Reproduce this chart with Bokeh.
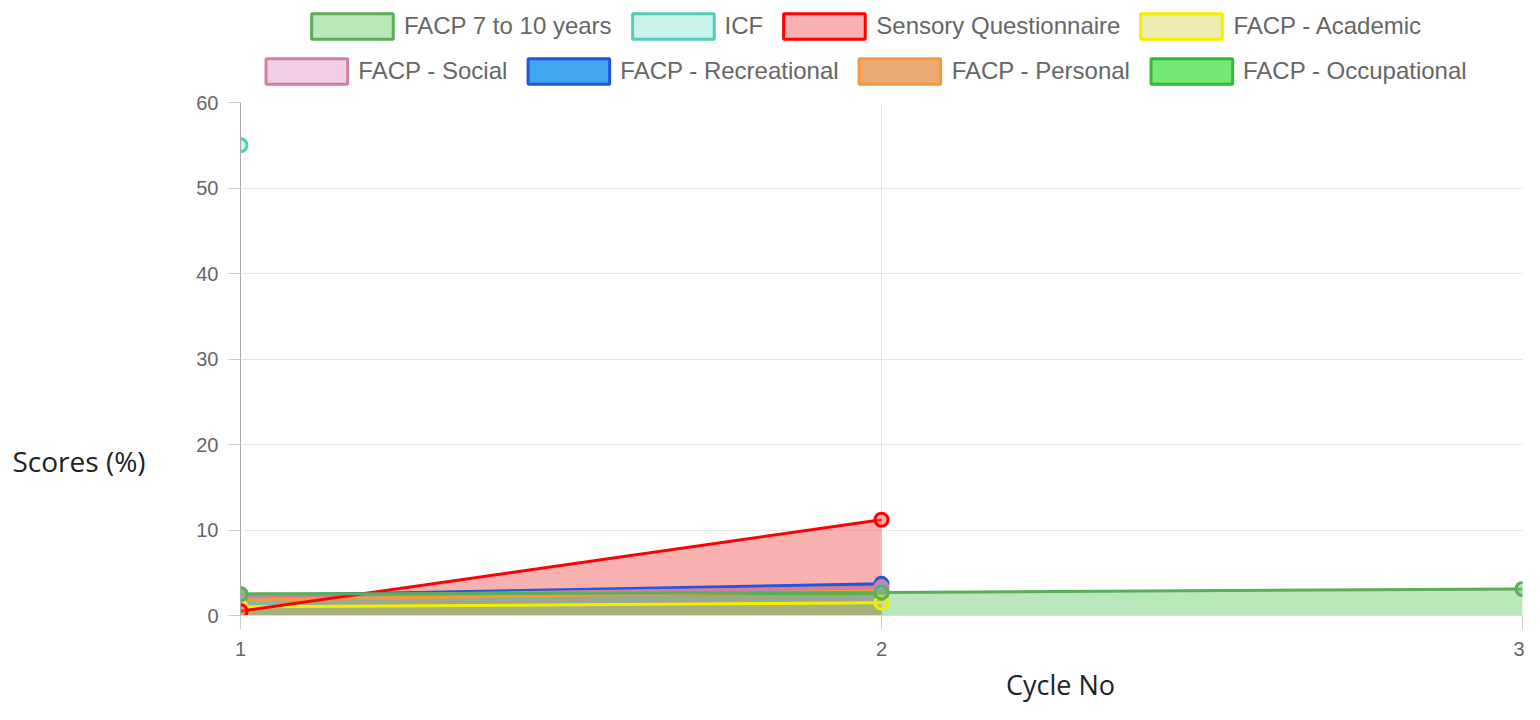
from bokeh.plotting import figure
from bokeh.layouts import column, row
from bokeh.models import Range1d, FixedTicker, Legend, LegendItem
from bokeh.core.properties import value
from bokeh.embed import file_html
from bokeh.resources import INLINE

# ---- data ----
cycles = [1, 2, 3]
y_ticks = [0, 10, 20, 30, 40, 50, 60]
series_names = [
    "FACP 7 to 10 years", "ICF", "Sensory Questionnaire", "FACP - Academic",
    "FACP - Social", "FACP - Recreational", "FACP - Personal", "FACP - Occupational",
]
facp_7_10 = [2.5, 2.7, 3.1]
icf = [55.0, None, None]
sensory = [0.5, 11.2, None]
academic = [1.0, 1.5, None]
social = [2.2, 3.3, None]
recreational = [2.3, 3.7, None]
personal = [1.8, 2.9, None]
occupational = [2.5, 2.6, None]
series_values = [facp_7_10, icf, sensory, academic, social, recreational, personal, occupational]
x_title = "Cycle No"
y_title = "Scores (%)"

# ---- styles ----
line_colors = ["#5aad5a", "#55cbb8", "#ff0000", "#f2ee00", "#d47ca2", "#2456d6", "#f59a3a", "#38b838"]
fill_colors = ["#78d278", "#96ebdc", "#f06464", "#dcdc64", "#e6a0d2", "#1e96f0", "#e17d28", "#28dc28"]
fill_alphas = [0.5, 0.5, 0.5, 0.5, 0.5, 0.85, 0.65, 0.65]

def blank_fig(w, h, **kw):
    f = figure(width=w, height=h, output_backend="svg", toolbar_location=None,
               x_axis_type=None, y_axis_type=None, **kw)
    f.outline_line_color = None
    return f

# ---- legend strip (frame spans x 200..1522 of the page) ----
lf = blank_fig(1524, 90, x_range=Range1d(0, 1), y_range=Range1d(0, 1),
               min_border_left=200, min_border_right=2, min_border_top=0, min_border_bottom=0)
swatches = []
for i in range(len(series_names)):
    # single off-screen point: only its legend swatch is visible
    swatches.append(lf.rect(x=[-5], y=[-5], width=1, height=1, fill_color=fill_colors[i],
                            fill_alpha=fill_alphas[i], line_color=line_colors[i], line_width=3))

def make_legend(idx, loc, marg):
    return Legend(items=[LegendItem(label=series_names[i], renderers=[swatches[i]]) for i in idx],
                  orientation="horizontal", location=loc,
                  glyph_width=102, glyph_height=32, label_height=32,
                  label_standoff=1, spacing=10, padding=2, margin=marg,
                  label_text_font="Liberation Sans", label_text_font_size="24px",
                  label_text_color="#666666",
                  background_fill_alpha=0, border_line_alpha=0)

lf.add_layout(make_legend([0, 1, 2, 3], "top_center", 8))
lf.add_layout(make_legend([4, 5, 6, 7], "bottom_center", 1))

# ---- main chart ----
p = figure(width=1334, height=574, output_backend="svg", toolbar_location=None,
           x_range=Range1d(1, 3), y_range=Range1d(0, 60),
           min_border_left=50, min_border_right=2, min_border_top=12, min_border_bottom=49)
p.outline_line_color = None

p.xaxis.ticker = FixedTicker(ticks=cycles)
p.yaxis.ticker = FixedTicker(ticks=y_ticks)
for ax in (p.xaxis, p.yaxis):
    ax.major_label_text_font = "Liberation Sans"
    ax.major_label_text_font_size = "20px"
    ax.major_label_text_color = "#666666"
    ax.major_tick_line_color = "#cccccc"
    ax.major_tick_in = 0
    ax.minor_tick_line_color = None
p.yaxis.major_tick_out = 12
p.yaxis.major_label_standoff = 10
p.xaxis.major_tick_out = 14
p.xaxis.major_label_standoff = 12
p.yaxis.axis_line_color = "#a8a8a8"
p.xaxis.axis_line_color = "#dddddd"
p.grid.grid_line_color = "#e6e6e6"

def clean(vals):
    xs = [c for c, v in zip(cycles, vals) if v is not None]
    ys = [v for v in vals if v is not None]
    return xs, ys

# fills first (last dataset at the bottom), then lines and points
for i in reversed(range(len(series_names))):
    xs, ys = clean(series_values[i])
    if len(xs) > 1:
        p.varea(x=xs, y1=[0] * len(xs), y2=ys, fill_color=fill_colors[i], fill_alpha=fill_alphas[i])
for i in reversed(range(len(series_names))):
    xs, ys = clean(series_values[i])
    if len(xs) > 1:
        p.line(xs, ys, line_color=line_colors[i], line_width=3)
    p.scatter(xs, ys, size=13, marker="circle", fill_color=fill_colors[i], fill_alpha=fill_alphas[i],
              line_color=line_colors[i], line_width=3)

# ---- axis titles (helper strips whose ranges are page pixels) ----
yt = blank_fig(190, 574, x_range=Range1d(0, 190), y_range=Range1d(615, 102),
               min_border_left=0, min_border_right=0, min_border_top=12, min_border_bottom=49)
yt.text(x=[12], y=[460], text=[y_title], text_font=value("Open Sans"), text_font_size="28px",
        text_color="#222222", text_align="left", text_baseline="middle")

xt = blank_fig(1524, 40, x_range=Range1d(200, 1522), y_range=Range1d(704, 664),
               min_border_left=200, min_border_right=2, min_border_top=0, min_border_bottom=0)
xt.text(x=[1060], y=[684], text=[x_title], text_font=value("Open Sans"), text_font_size="27px",
        text_color="#222222", text_align="center", text_baseline="middle")

layout = column(lf, row(yt, p), xt)
open("out.html", "w").write(file_html(layout, INLINE))
